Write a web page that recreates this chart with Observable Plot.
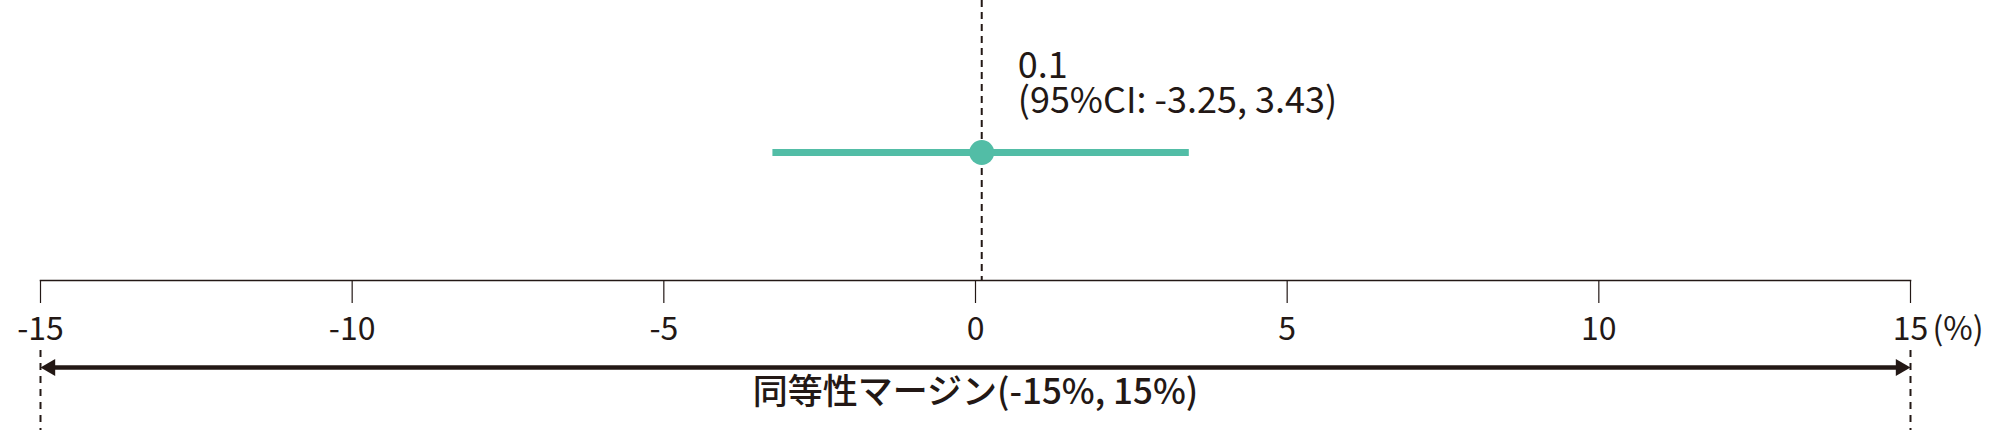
<!DOCTYPE html>
<html>
<head>
<meta charset="utf-8">
<script src="https://cdn.jsdelivr.net/npm/d3@7"></script>
<script src="https://cdn.jsdelivr.net/npm/@observablehq/plot@0.6"></script>
<style>
  html, body { margin: 0; padding: 0; background: #fff; }
  svg { display: block; }
</style>
</head>
<body>
<div id="chart"></div>
<script>
// ---- data ----
const rowNames = ["estimate"];
const estimates = [0.1];
const ciLow = [-3.25];
const ciHigh = [3.43];
const labels = ["0.1\n(95%CI: -3.25, 3.43)"];
const marginLow = [-15];
const marginHigh = [15];
const marginLabel = ["同等性マージン(-15%, 15%)"];
const tickValues = [-15, -10, -5, 0, 5, 10, 15];
const unitLabel = ["(%)"];

// ---- tables built from the arrays ----
const rows = rowNames.map((r, i) => ({row: r, est: estimates[i], lo: ciLow[i], hi: ciHigh[i], label: labels[i]}));
const margins = marginLow.map((lo, i) => ({row: rowNames[0], lo, hi: marginHigh[i], mid: (lo + marginHigh[i]) / 2, label: marginLabel[i]}));
const marginEnds = margins.flatMap(m => [{x: m.lo}, {x: m.hi}]);
const unit = unitLabel.map(u => ({x: tickValues[tickValues.length - 1], text: u}));

const dark = "#231815";
const teal = "#52BDA6";
const font = "'Noto Sans CJK JP', 'Noto Sans', sans-serif";

const chart = Plot.plot({
  width: 2009,
  height: 430,
  marginLeft: 40,
  marginRight: 99,
  marginTop: 24,
  marginBottom: 150,
  style: {fontFamily: font, color: dark, background: "#fff", overflow: "visible"},
  x: {domain: [-15, 15], axis: null},
  y: {type: "point", domain: rowNames, axis: null},
  marks: [
    // dashed reference line through the estimate
    Plot.ruleX(rows, {x: "est", insetTop: -24, stroke: dark, strokeWidth: 2, strokeDasharray: "7,5"}),
    // dashed lines at the margin ends, below the axis
    Plot.ruleX(marginEnds, {x: "x", dy: 150, insetTop: 176, stroke: dark, strokeWidth: 2, strokeDasharray: "7,6"}),
    // axis
    Plot.frame({anchor: "bottom", stroke: dark, strokeWidth: 1.5}),
    Plot.axisX({ticks: tickValues, tickFormat: d => `${d}`, anchor: "bottom", tickSize: 23, tickPadding: 14,
      fontSize: 32, stroke: dark, strokeWidth: 1.2, fill: dark, label: null}),
    Plot.text(unit, {x: "x", text: "text", frameAnchor: "bottom", dy: 37, dx: 22, lineAnchor: "top",
      textAnchor: "start", fontSize: 32, fill: dark}),
    // CI and estimate
    Plot.ruleY(rows, {y: "row", x1: "lo", x2: "hi", stroke: teal, strokeWidth: 7}),
    Plot.dot(rows, {x: "est", y: "row", r: 12.5, fill: teal}),
    Plot.text(rows, {x: "est", y: "row", text: "label", dx: 36, dy: -40, textAnchor: "start",
      lineAnchor: "bottom", lineHeight: 0.95, fontSize: 36, fill: dark}),
    // equivalence margin arrow
    Plot.ruleY(margins, {y: "row", x1: "lo", x2: "hi", dy: 215, insetLeft: 8, insetRight: 8, stroke: dark, strokeWidth: 4.5}),
    Plot.dot(margins, {x: "lo", frameAnchor: "bottom", dy: 87, dx: 9.8, symbol: "triangle", rotate: -90, r: 6.3, fill: dark}),
    Plot.dot(margins, {x: "hi", frameAnchor: "bottom", dy: 87, dx: -9.8, symbol: "triangle", rotate: 90, r: 6.3, fill: dark}),
    Plot.text(margins, {x: "mid", text: "label", frameAnchor: "bottom", dy: 123, fontSize: 35, fontWeight: 500, fill: dark})
  ]
});
document.getElementById("chart").appendChild(chart);
</script>
</body>
</html>
